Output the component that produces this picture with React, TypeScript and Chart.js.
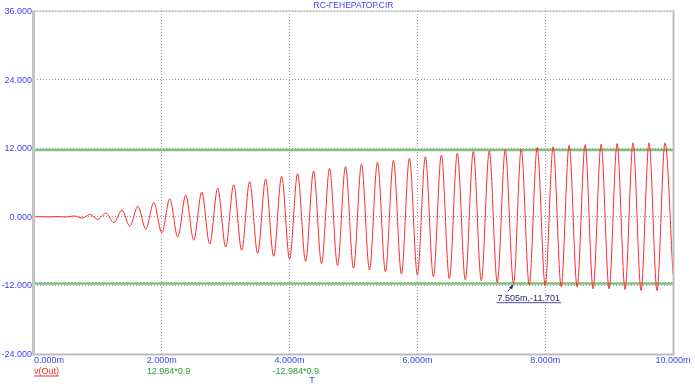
import React, { useEffect, useRef } from "react";
import { Chart, registerables } from "chart.js";

Chart.register(...registerables);

// time of each extremum (ms) and the voltage read at it
const timeMs = [
  0.0, 0.125, 0.25, 0.375, 0.5, 0.625, 0.75, 0.875, 1.0, 1.125, 1.25, 1.375, 1.5, 1.625, 1.75, 1.875,
  2.0, 2.125, 2.25, 2.375, 2.5, 2.625, 2.75, 2.875, 3.0, 3.125, 3.25, 3.375, 3.5, 3.625, 3.75, 3.875,
  4.0, 4.125, 4.25, 4.375, 4.5, 4.625, 4.75, 4.875, 5.0, 5.125, 5.25, 5.375, 5.5, 5.625, 5.75, 5.875,
  6.0, 6.125, 6.25, 6.375, 6.5, 6.625, 6.75, 6.875, 7.0, 7.125, 7.25, 7.375, 7.505, 7.625, 7.75, 7.875,
  8.0, 8.125, 8.25, 8.375, 8.5, 8.625, 8.75, 8.875, 9.0, 9.125, 9.25, 9.375, 9.5, 9.625, 9.75, 9.875,
  10.0,
];
const vOut = [
  0.0, 0.02, -0.02, 0.04, -0.04, 0.15, -0.22, 0.4, -0.45, 0.65, -1.0, 1.16, -1.63, 1.85, -2.15, 2.5,
  -2.8, 3.15, -3.55, 3.8, -4.1, 4.35, -4.75, 5.0, -5.3, 5.6, -5.85, 6.15, -6.4, 6.6, -6.9, 7.1,
  -7.4, 7.55, -7.8, 8.0, -8.2, 8.45, -8.55, 8.8, -9.0, 9.2, -9.3, 9.55, -9.6, 9.85, -10.0, 10.25,
  -10.15, 10.5, -10.45, 10.8, -10.8, 11.1, -11.05, 11.4, -11.2, 11.5, -11.5, 11.7, -11.701, 11.85, -11.9, 12.1,
  -12.0, 12.25, -12.2, 12.5, -12.3, 12.6, -12.6, 12.7, -12.6, 12.8, -12.7, 12.95, -12.9, 12.95, -12.9, 12.95,
  -10.0,
];
const greenLevels = [11.6856, -11.6856];
const xRange = [0, 10];
const yRange = [-24, 36];
const xTicks = [0, 2, 4, 6, 8, 10];
const xTickLabels = ["0.000m", "2.000m", "4.000m", "6.000m", "8.000m", "10.000m"];
const yTicks = [36, 24, 12, 0, -12, -24];
const yTickLabels = ["36.000", "24.000", "12.000", "0.000", "-12.000", "-24.000"];
const traceLabels = ["v(Out)", "12.984*0.9", "-12.984*0.9"];
const axisTitle = "T";
const chartTitle = "RC-ГЕНЕРАТОР.CIR";
const markerT = 7.505;
const markerV = -11.701;
const markerLabel = "7.505m,-11.701";

const FONT = '9px "Liberation Sans", Arial, sans-serif';
const BLUE = "#4040ff";
const GREEN = "#2e9a2e";
const RED = "#ff2a2a";

const overlay = {
  id: "overlay",
  afterDraw(chart: any) {
    const ctx = chart.ctx as CanvasRenderingContext2D;
    const ca = chart.chartArea;
    const xs = chart.scales.x;
    const ys = chart.scales.y;
    ctx.save();

    // frame
    ctx.fillStyle = "#bdbdbd";
    ctx.fillRect(ca.left, ca.top - 0.5, ca.right - ca.left, 1);
    ctx.fillRect(ca.left, ca.bottom - 0.5, ca.right - ca.left, 2);
    ctx.fillRect(ca.right - 0.5, ca.top - 0.5, 2, ca.bottom - ca.top + 2);
    ctx.fillStyle = "#c4c4c4";
    ctx.fillRect(ca.left - 2, ca.top - 0.5, 3, ca.bottom - ca.top + 2);

    ctx.font = FONT;
    // y tick labels
    ctx.fillStyle = BLUE;
    ctx.textAlign = "right";
    ctx.textBaseline = "middle";
    yTicks.forEach((v, i) => {
      ctx.fillText(yTickLabels[i], ca.left - 2, ys.getPixelForValue(v) + 0.5);
    });

    // x tick labels
    const starts: number[] = [];
    ctx.textAlign = "left";
    xTicks.forEach((v, i) => {
      const px = xs.getPixelForValue(v);
      const w = ctx.measureText(xTickLabels[i]).width;
      const sx = i === 0 ? ca.left : px - w / 2;
      starts.push(sx);
      ctx.fillText(xTickLabels[i], sx, ca.bottom + 7);
    });

    // trace labels row
    const rowY = ca.bottom + 17.5;
    ctx.fillStyle = RED;
    ctx.fillText(traceLabels[0], starts[0], rowY);
    const w0 = ctx.measureText(traceLabels[0]).width;
    ctx.fillRect(starts[0], rowY + 4, w0, 1);
    ctx.fillStyle = GREEN;
    ctx.fillText(traceLabels[1], starts[1], rowY);
    ctx.fillText(traceLabels[2], starts[2] - 2, rowY);

    // axis title
    ctx.fillStyle = BLUE;
    ctx.textAlign = "center";
    ctx.fillText(axisTitle, 312, ca.bottom + 27);

    // chart title
    ctx.font = '8.5px "Liberation Sans", Arial, sans-serif';
    ctx.fillText(chartTitle, (ca.left + ca.right) / 2, 5.5);

    // marker annotation
    const mx = xs.getPixelForValue(markerT);
    const my = ys.getPixelForValue(markerV);
    ctx.font = FONT;
    ctx.fillStyle = "#26266e";
    ctx.textAlign = "left";
    ctx.fillText(markerLabel, mx - 16, my + 15);
    const lw = ctx.measureText(markerLabel).width;
    ctx.fillStyle = "#4a4a9a";
    ctx.fillRect(mx - 17, my + 18.5, lw + 2, 1);
    ctx.strokeStyle = "#26266e";
    ctx.lineWidth = 1;
    ctx.beginPath();
    ctx.moveTo(mx - 6, my + 8);
    ctx.lineTo(mx - 1, my + 2);
    ctx.stroke();
    ctx.fillStyle = "#26266e";
    ctx.beginPath();
    ctx.moveTo(mx, my + 0.5);
    ctx.lineTo(mx - 4.5, my + 3.5);
    ctx.lineTo(mx - 1.5, my + 5.5);
    ctx.closePath();
    ctx.fill();

    ctx.restore();
  },
};

export default function App() {
  const ref = useRef<HTMLCanvasElement | null>(null);

  useEffect(() => {
    document.body.style.margin = "0";
    const canvas = ref.current;
    if (!canvas) return;
    const chart = new Chart(canvas, {
      type: "line",
      data: {
        datasets: [
          {
            data: timeMs.map((t, i) => ({ x: t, y: vOut[i] })),
            borderColor: RED,
            borderWidth: 1,
            pointRadius: 0,
            cubicInterpolationMode: "monotone",
            fill: false,
          },
          {
            data: xRange.map((t) => ({ x: t, y: greenLevels[0] })),
            borderColor: "#80c080",
            borderWidth: 2.5,
            pointRadius: 0,
            fill: false,
          },
          {
            data: xRange.map((t) => ({ x: t, y: greenLevels[1] })),
            borderColor: "#80c080",
            borderWidth: 2.5,
            pointRadius: 0,
            fill: false,
          },
        ],
      },
      options: {
        animation: false,
        responsive: false,
        maintainAspectRatio: false,
        events: [],
        layout: { padding: { left: 34, right: 22, top: 11, bottom: 36 } },
        plugins: { legend: { display: false }, tooltip: { enabled: false }, title: { display: false } },
        scales: {
          x: {
            type: "linear",
            min: xRange[0],
            max: xRange[1],
            afterBuildTicks: (s: any) => {
              s.ticks = xTicks.map((v) => ({ value: v }));
            },
            ticks: { display: false },
            grid: { color: "#9a9a9a", lineWidth: 1, drawTicks: false },
            border: { display: false, dash: [1, 2] },
          },
          y: {
            type: "linear",
            min: yRange[0],
            max: yRange[1],
            afterBuildTicks: (s: any) => {
              s.ticks = yTicks.map((v) => ({ value: v }));
            },
            ticks: { display: false },
            grid: { color: "#9a9a9a", lineWidth: 1, drawTicks: false },
            border: { display: false, dash: [1, 2] },
          },
        },
      } as any,
      plugins: [overlay],
    });
    return () => chart.destroy();
  }, []);

  return (
    <div style={{ width: 695, height: 390, background: "#fff" }}>
      <canvas ref={ref} width={695} height={390} style={{ display: "block" }} />
    </div>
  );
}
